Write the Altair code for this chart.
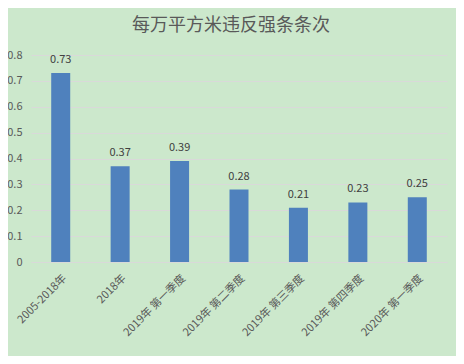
import altair as alt
import pandas as pd

categories = ["2005-2018年", "2018年", "2019年 第一季度", "2019年 第二季度",
              "2019年 第三季度", "2019年 第四季度", "2020年 第一季度"]
values = [0.73, 0.37, 0.39, 0.28, 0.21, 0.23, 0.25]

df = pd.DataFrame({"cat": categories, "val": values})
FONT = "Noto Sans CJK SC"

base = alt.Chart(df).encode(
    x=alt.X("cat:N", sort=categories, title=None,
            scale=alt.Scale(paddingInner=0, paddingOuter=0),
            axis=alt.Axis(labelAngle=-45, labelFontSize=11, labelColor="#595959",
                          labelFont=FONT, ticks=False, domainColor="#d9d9d9",
                          labelPadding=10, labelLimit=200)),
    y=alt.Y("val:Q", title=None,
            scale=alt.Scale(domain=[0, 0.8]),
            axis=alt.Axis(values=[0, 0.1, 0.2, 0.3, 0.4, 0.5, 0.6, 0.7, 0.8],
                          format=".1~f", labelFontSize=11, labelColor="#595959",
                          labelFont=FONT, ticks=False, domain=False,
                          gridColor="#d9d9d9", labelPadding=9)),
)

bars = base.mark_bar(color="#4f81bd", size=19)
text = base.mark_text(dy=-8, baseline="bottom", fontSize=11, color="#404040",
                      font=FONT).encode(text=alt.Text("val:Q", format=".2f"))

chart = (bars + text).properties(
    width=416, height=207,
    background="#cce8cc",
    padding={"left": 23, "top": 47, "right": 9, "bottom": 94},
    autosize=alt.AutoSizeParams(type="none"),
    title=alt.TitleParams("每万平方米违反强条条次", fontSize=18, color="#595959",
                          font=FONT, fontWeight="normal", offset=14, dx=-8),
).configure_view(stroke=None)

chart.save("out.html", embed_options={"renderer": "svg", "actions": False})
